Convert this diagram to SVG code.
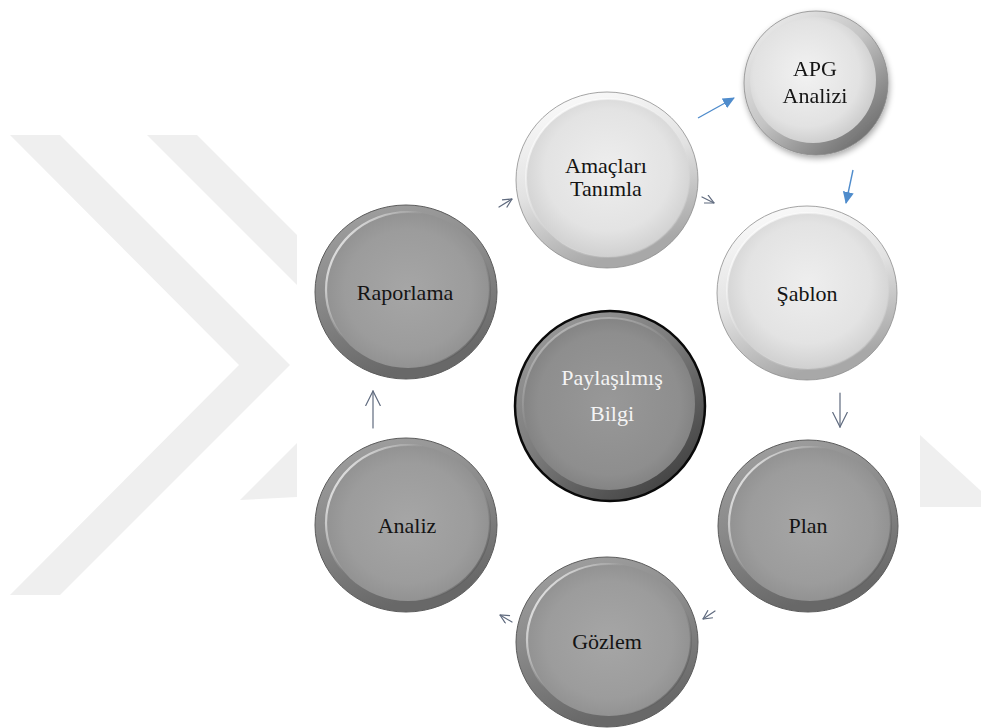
<svg xmlns="http://www.w3.org/2000/svg" width="981" height="728" viewBox="0 0 981 728">
  <defs>
    <style>
      .lbl { font-family: "Liberation Serif", "Times New Roman", serif; font-size: 22px; text-anchor: middle; fill: #141414; }
      .lbl-inv { fill: #f4f4f4; }
      .thin { fill: none; stroke: #5f6a7e; stroke-width: 1.2; stroke-linecap: round; }
      .blue { fill: none; stroke: #4f8ccc; stroke-width: 1.4; }
      .mark { fill: #efefef; }
    </style>

    <!-- light pearl buttons -->
    <linearGradient id="rimLight" x1="0" y1="0" x2="0.35" y2="1">
      <stop offset="0" stop-color="#ffffff"/>
      <stop offset="0.55" stop-color="#e2e2e2"/>
      <stop offset="1" stop-color="#a8a8a8"/>
    </linearGradient>
    <radialGradient id="faceLight" cx="0.5" cy="0.45" r="0.55">
      <stop offset="0" stop-color="#eeeeee"/>
      <stop offset="0.7" stop-color="#e3e3e3"/>
      <stop offset="1" stop-color="#d0d0d0"/>
    </radialGradient>
    <linearGradient id="edgeLight" x1="0" y1="0" x2="1" y2="1">
      <stop offset="0" stop-color="#ffffff" stop-opacity="0.9"/>
      <stop offset="0.5" stop-color="#ffffff" stop-opacity="0"/>
      <stop offset="1" stop-color="#9a9a9a" stop-opacity="0.7"/>
    </linearGradient>

    <!-- raised button (APG) -->
    <linearGradient id="rimRaised" x1="0" y1="0" x2="0.9" y2="1">
      <stop offset="0" stop-color="#f4f4f4"/>
      <stop offset="0.5" stop-color="#c4c4c4"/>
      <stop offset="1" stop-color="#5e5e5e"/>
    </linearGradient>
    <radialGradient id="faceRaised" cx="0.45" cy="0.45" r="0.6">
      <stop offset="0" stop-color="#f2f2f2"/>
      <stop offset="0.7" stop-color="#e2e2e2"/>
      <stop offset="1" stop-color="#c8c8c8"/>
    </radialGradient>
    <filter id="shadow" x="-20%" y="-20%" width="140%" height="140%">
      <feGaussianBlur in="SourceAlpha" stdDeviation="3"/>
      <feOffset dx="1" dy="3" result="b"/>
      <feComponentTransfer><feFuncA type="linear" slope="0.35"/></feComponentTransfer>
      <feMerge><feMergeNode/><feMergeNode in="SourceGraphic"/></feMerge>
    </filter>

    <!-- dark pearl buttons -->
    <linearGradient id="rimDark" x1="0" y1="0" x2="0.3" y2="1">
      <stop offset="0" stop-color="#a2a2a2"/>
      <stop offset="0.5" stop-color="#8a8a8a"/>
      <stop offset="1" stop-color="#686868"/>
    </linearGradient>
    <radialGradient id="faceDark" cx="0.5" cy="0.5" r="0.55">
      <stop offset="0" stop-color="#a6a6a6"/>
      <stop offset="0.7" stop-color="#9c9c9c"/>
      <stop offset="1" stop-color="#8e8e8e"/>
    </radialGradient>
    <linearGradient id="edgeDark" x1="0" y1="0.2" x2="1" y2="0.8">
      <stop offset="0" stop-color="#f2f2f2" stop-opacity="0.95"/>
      <stop offset="0.35" stop-color="#f2f2f2" stop-opacity="0"/>
      <stop offset="0.75" stop-color="#5a5a5a" stop-opacity="0"/>
      <stop offset="1" stop-color="#5a5a5a" stop-opacity="0.8"/>
    </linearGradient>

    <!-- hub -->
    <linearGradient id="rimHub" x1="0" y1="0" x2="0.8" y2="1">
      <stop offset="0" stop-color="#a0a0a0"/>
      <stop offset="0.5" stop-color="#7c7c7c"/>
      <stop offset="1" stop-color="#3e3e3e"/>
    </linearGradient>
    <radialGradient id="faceHub" cx="0.5" cy="0.5" r="0.55">
      <stop offset="0" stop-color="#989898"/>
      <stop offset="0.75" stop-color="#8e8e8e"/>
      <stop offset="1" stop-color="#7e7e7e"/>
    </radialGradient>
    <linearGradient id="edgeHub" x1="0" y1="0" x2="0.6" y2="1">
      <stop offset="0" stop-color="#c8c8c8" stop-opacity="0.9"/>
      <stop offset="0.5" stop-color="#c8c8c8" stop-opacity="0"/>
    </linearGradient>

    <marker id="headBig" viewBox="0 0 16 16" refX="15" refY="8" markerWidth="16" markerHeight="16" markerUnits="userSpaceOnUse" orient="auto">
      <path d="M0,0.5 L15,8 L0,15.5" fill="none" stroke="#5f6a7e" stroke-width="1.2"/>
    </marker>
    <marker id="headSmall" viewBox="0 0 10 10" refX="9.5" refY="5" markerWidth="10" markerHeight="10" markerUnits="userSpaceOnUse" orient="auto">
      <path d="M0.5,0.5 L9.5,5 L0.5,9.5" fill="none" stroke="#5f6a7e" stroke-width="1.2"/>
    </marker>
    <marker id="headBlue" viewBox="0 0 12 12" refX="11" refY="6" markerWidth="12" markerHeight="12" markerUnits="userSpaceOnUse" orient="auto">
      <path d="M0,0.5 L12,6 L0,11.5 Z" fill="#4f8ccc"/>
    </marker>
  </defs>

  <rect width="981" height="728" fill="#ffffff"/>

  <!-- background chevrons -->
  <g id="backdrop">
    <polygon class="mark" points="10,135 60,135 290,365 60,595 10,595 239,365"/>
    <polygon class="mark" points="147,135 197,135 297,235 297,285"/>
    <polygon class="mark" points="297,443 297,497 240,500 226,514"/>
    <polygon class="mark" points="920,435 981,491 981,507 920,507"/>
  </g>

  <!-- connectors -->
  <g id="connectors">
    <path class="thin" d="M499,207 L512,199" marker-end="url(#headSmall)"/>
    <path class="thin" d="M702,197 L714,203" marker-end="url(#headSmall)"/>
    <path class="blue" d="M698,118 L734,98" marker-end="url(#headBlue)"/>
    <path class="blue" d="M853,170 L846,203" marker-end="url(#headBlue)"/>
    <path class="thin" d="M840,393 L840,427" marker-end="url(#headBig)"/>
    <path class="thin" d="M715,611 L703,619" marker-end="url(#headSmall)"/>
    <path class="thin" d="M512,622 L500,615" marker-end="url(#headSmall)"/>
    <path class="thin" d="M373,428 L373,391" marker-end="url(#headBig)"/>
  </g>

  <!-- hub -->
  <g id="node-paylasilmis">
    <ellipse cx="610" cy="406" rx="95" ry="95" fill="url(#rimHub)" stroke="#0a0a0a" stroke-width="2.5"/>
    <ellipse cx="609" cy="404" rx="86" ry="86" fill="url(#faceHub)" stroke="url(#edgeHub)" stroke-width="2"/>
    <text class="lbl lbl-inv" x="612" y="385">Paylaşılmış</text>
    <text class="lbl lbl-inv" x="612" y="421">Bilgi</text>
  </g>

  <g id="node-amaclar">
    <ellipse cx="607" cy="180" rx="91" ry="88" fill="url(#rimLight)" stroke="#8e8e8e" stroke-width="0.8"/>
    <ellipse cx="608" cy="178" rx="82" ry="79" fill="url(#faceLight)" stroke="url(#edgeLight)" stroke-width="2"/>
    <text class="lbl" x="606" y="173">Amaçları</text>
    <text class="lbl" x="606" y="196">Tanımla</text>
  </g>

  <g id="node-apg" filter="url(#shadow)">
    <ellipse cx="816" cy="83" rx="72" ry="72" fill="url(#rimRaised)" stroke="#8a8a8a" stroke-width="0.8"/>
    <ellipse cx="813" cy="80" rx="63" ry="63" fill="url(#faceRaised)"/>
    <text class="lbl" x="815" y="76">APG</text>
    <text class="lbl" x="815" y="103">Analizi</text>
  </g>

  <g id="node-sablon">
    <ellipse cx="807" cy="293" rx="90" ry="87" fill="url(#rimLight)" stroke="#8e8e8e" stroke-width="0.8"/>
    <ellipse cx="808" cy="291" rx="81" ry="78" fill="url(#faceLight)" stroke="url(#edgeLight)" stroke-width="2"/>
    <text class="lbl" x="807" y="301">Şablon</text>
  </g>

  <g id="node-raporlama">
    <ellipse cx="406" cy="292" rx="91" ry="87" fill="url(#rimDark)" stroke="#5c5c5c" stroke-width="1"/>
    <ellipse cx="408" cy="290" rx="82" ry="78" fill="url(#faceDark)" stroke="url(#edgeDark)" stroke-width="2.2"/>
    <text class="lbl" x="405" y="300">Raporlama</text>
  </g>

  <g id="node-analiz">
    <ellipse cx="406" cy="525" rx="91" ry="87" fill="url(#rimDark)" stroke="#5c5c5c" stroke-width="1"/>
    <ellipse cx="408" cy="523" rx="82" ry="78" fill="url(#faceDark)" stroke="url(#edgeDark)" stroke-width="2.2"/>
    <text class="lbl" x="407" y="533">Analiz</text>
  </g>

  <g id="node-plan">
    <ellipse cx="808" cy="526" rx="90" ry="86" fill="url(#rimDark)" stroke="#5c5c5c" stroke-width="1"/>
    <ellipse cx="810" cy="524" rx="81" ry="77" fill="url(#faceDark)" stroke="url(#edgeDark)" stroke-width="2.2"/>
    <text class="lbl" x="808" y="533">Plan</text>
  </g>

  <g id="node-gozlem">
    <ellipse cx="607" cy="642" rx="91" ry="85" fill="url(#rimDark)" stroke="#5c5c5c" stroke-width="1"/>
    <ellipse cx="609" cy="640" rx="82" ry="76" fill="url(#faceDark)" stroke="url(#edgeDark)" stroke-width="2.2"/>
    <text class="lbl" x="607" y="649">Gözlem</text>
  </g>
</svg>
